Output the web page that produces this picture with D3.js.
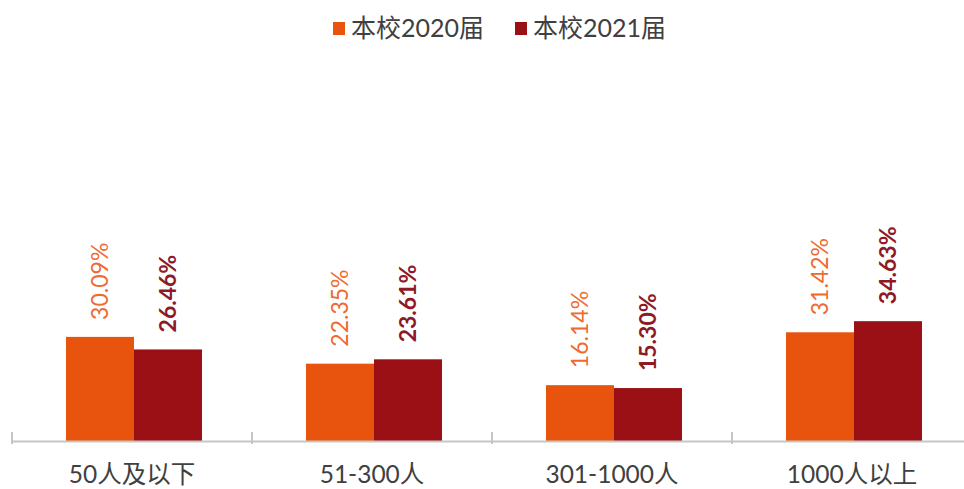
<!DOCTYPE html>
<html><head><meta charset="utf-8">
<script src="https://cdn.jsdelivr.net/npm/d3@7"></script>
<style>
html,body{margin:0;padding:0;background:#fff;}
svg{display:block;}
</style></head>
<body>
<svg id="chart" width="964" height="489"></svg>
<script>
const categories = ["50人及以下", "51-300人", "301-1000人", "1000人以上"];
const seriesNames = ["本校2020届", "本校2021届"];
const values2020 = [30.09, 22.35, 16.14, 31.42];
const values2021 = [26.46, 23.61, 15.30, 34.63];
const seriesColors = ["#E8540E", "#9A1014"];
const labelColors = ["#EE6A30", "#8E1A24"];

const svg = d3.select("#chart");
const font = "Lato, 'Noto Sans CJK SC', sans-serif";
const baseY = 441;

const x = d3.scaleBand().domain(categories).range([13, 973]).paddingInner(0).paddingOuter(0);
const xs = d3.scaleBand().domain(seriesNames).range([0, 136]);
const y = d3.scaleLinear().domain([0, 100]).range([baseY, 95]);

const data = categories.map((c, i) => ({cat: c, vals: [values2020[i], values2021[i]]}));

// bars
const g = svg.append("g");
data.forEach(d => {
  const gx = x(d.cat) + x.bandwidth() / 2 - 68 + 1;
  d.vals.forEach((v, j) => {
    const bx = gx + xs(seriesNames[j]);
    g.append("rect")
      .attr("x", bx).attr("y", y(v))
      .attr("width", xs.bandwidth()).attr("height", baseY - y(v))
      .attr("fill", seriesColors[j]);
    const cx = bx + xs.bandwidth() / 2;
    g.append("text")
      .attr("transform", `translate(${cx + 8},${y(v) - 17}) rotate(-90)`)
      .attr("text-anchor", "start")
      .attr("font-family", font)
      .attr("font-size", 23)
      .attr("font-weight", j === 0 ? 400 : 700)
      .attr("fill", labelColors[j])
      .text(v.toFixed(2) + "%");
  });
});

// axis
const axis = svg.append("g");
axis.append("line").attr("x1", 12).attr("x2", 964).attr("y1", baseY + 0.5).attr("y2", baseY + 0.5)
  .attr("stroke", "#c6c6c6").attr("stroke-width", 2);
const edges = categories.map(c => x(c) - 1);
edges.forEach(e => {
  axis.append("line").attr("x1", e).attr("x2", e).attr("y1", baseY - 9).attr("y2", baseY + 3)
    .attr("stroke", "#c6c6c6").attr("stroke-width", 2);
});
categories.forEach(c => {
  axis.append("text")
    .attr("x", x(c) + x.bandwidth() / 2 - 1)
    .attr("y", 483)
    .attr("text-anchor", "middle")
    .attr("font-family", font)
    .attr("font-size", 24.5)
    .attr("fill", "#404040")
    .text(c);
});

// legend
const legendX = [333, 515];
seriesNames.forEach((s, j) => {
  const lg = svg.append("g").attr("transform", `translate(${legendX[j]},0)`);
  lg.append("rect").attr("x", 0).attr("y", 22).attr("width", 12).attr("height", 13).attr("fill", seriesColors[j]);
  lg.append("text").attr("x", 18).attr("y", 37)
    .attr("font-family", font).attr("font-size", 25).attr("fill", "#404040").text(s);
});
</script>
</body></html>
